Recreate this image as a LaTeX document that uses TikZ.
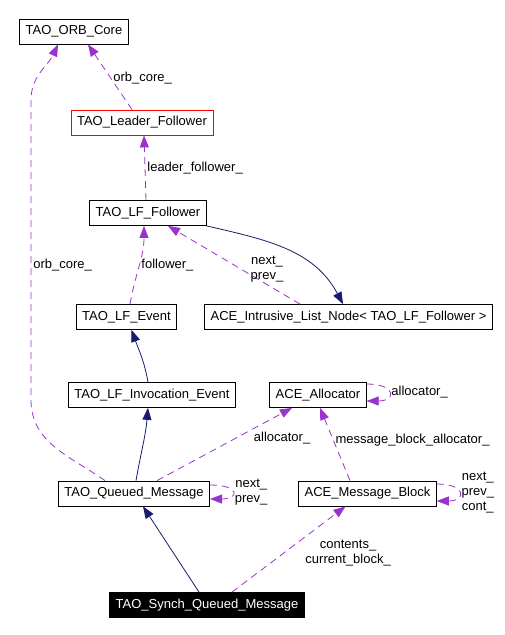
\documentclass[tikz,border=0pt]{standalone}
\usepackage{fontspec}
\setmainfont{Liberation Sans}
\usetikzlibrary{arrows.meta, positioning}
\definecolor{edgepurple}{HTML}{9A32CD}
\definecolor{edgenavy}{HTML}{191970}

\begin{document}
\begin{tikzpicture} [
						x=1pt, y=1pt,
						>={Triangle[length=12pt,width=9pt]},
						every node/.style={font=\fontsize{13pt}{15pt}\selectfont},
						class/.style={draw, fill=white, line width=0.8pt, inner xsep=6pt, minimum height=25pt},
						uses/.style={edgepurple, dash pattern=on 7pt off 5pt, line width=0.8pt},
						inherits/.style={edgenavy, line width=0.8pt},
						lbl/.style={inner sep=2pt, align=center, text=black}
					]

\useasboundingbox (0,0) rectangle (504,635);

\node (orb) [class] at (74,603.5) {TAO\_ORB\_Core};
\node (tlf) [class, draw=red] at (142,512.5) {TAO\_Leader\_Follower};
\node (lff) [class] at (148,422) {TAO\_LF\_Follower};
\node (iln) [class] at (348.5,318) {ACE\_Intrusive\_List\_Node< TAO\_LF\_Follower >};
\node (lfe) [class] at (126.5,318) {TAO\_LF\_Event};
\node (lie) [class] at (152,240) {TAO\_LF\_Invocation\_Event};
\node (alc) [class] at (318,240) {ACE\_Allocator};
\node (qm) [class] at (134,141.5) {TAO\_Queued\_Message};
\node (amb) [class] at (367.5,141.5) {ACE\_Message\_Block};
\node (sqm) [class, fill=black, text=white] at (207,30) {TAO\_Synch\_Queued\_Message};

\path[->, inherits]
	(lff.south east) edge [out=-13, in=118] ([xshift=-5.5pt]iln.north)
	([xshift=-4pt]lie.north) edge [out=100, in=-70] ([xshift=5pt]lfe.south)
	([xshift=2pt]qm.north) edge [out=80, in=-95] ([xshift=-4pt]lie.south)
	([xshift=-8pt]sqm.north) edge ([xshift=9pt]qm.south);

\path[->, uses]
	([xshift=-10pt]tlf.north) edge node[lbl, pos=0.48, right] {orb\_core\_} ([xshift=14pt]orb.south)
	([xshift=-2pt]lff.north) edge node[lbl, right] {leader\_follower\_} ([xshift=2pt]tlf.south)
	([xshift=3.5pt]lfe.north) edge [out=80, in=-90] node[lbl, right] {follower\_} ([xshift=-4pt]lff.south)
	([xshift=-48.5pt]iln.north) edge node[lbl, pos=0.25, above] {next\_\\prev\_} ([xshift=20pt]lff.south)
	([xshift=23pt]qm.north) edge node[lbl, pos=0.7, anchor=north west] {allocator\_} ([xshift=-26pt]alc.south)
	([yshift=8.5pt]qm.east) edge [out=0, in=0, looseness=5.5] node[lbl, right] {next\_\\prev\_} ([yshift=-5.5pt]qm.east)
	([yshift=11pt]alc.east) edge [out=0, in=0, looseness=4.5] node[lbl, right] {allocator\_} ([yshift=-6pt]alc.east)
	([xshift=-17.5pt]amb.north) edge node[lbl, pos=0.56, right] {message\_block\_allocator\_} ([xshift=2pt]alc.south)
	([yshift=9.5pt]amb.east) edge [out=0, in=0, looseness=4.5] node[lbl, right] {next\_\\prev\_\\cont\_} ([yshift=-7.5pt]amb.east)
	([xshift=25pt]sqm.north) edge node[lbl, pos=0.45, right=20pt] {contents\_\\current\_block\_} ([xshift=-22pt]amb.south);

\draw[->, uses] ([xshift=-29pt]qm.north) to[out=145, in=-90] (31,235)
	-- node[lbl, pos=0.45, right] {orb\_core\_} (31,535)
	to[out=90, in=-115] ([xshift=-16pt]orb.south);

\end{tikzpicture}
\end{document}
